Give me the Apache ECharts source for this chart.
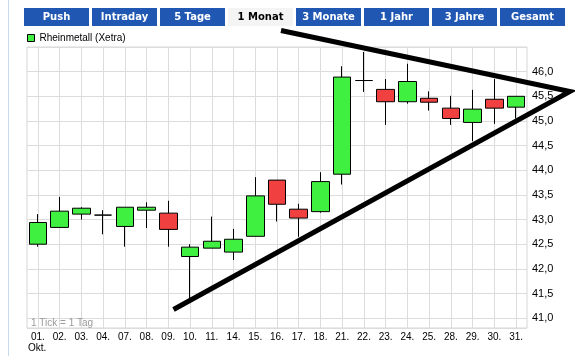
<!DOCTYPE html>
<html>
<head>
<meta charset="utf-8">
<script src="https://cdn.jsdelivr.net/npm/echarts@6/dist/echarts.min.js"></script>
<style>
html,body{margin:0;padding:0;background:#fff;}
#chart{width:575px;height:356px;}
</style>
</head>
<body>
<div id="chart"></div>
<script>
// ---- data ----
var categories = ['01.','02.','03.','04.','07.','08.','09.','10.','11.','14.','15.','16.','17.','18.','21.','22.','23.','24.','25.','28.','29.','30.','31.'];
var openVals  = [42.50,42.84,43.11,43.09,42.86,43.19,43.13,42.25,42.42,42.34,42.66,43.80,43.21,43.16,43.92,45.82,45.64,45.39,45.46,45.26,44.97,45.44,45.28];
var closeVals = [42.94,43.17,43.23,43.09,43.25,43.25,42.80,42.44,42.56,42.60,43.48,43.31,43.03,43.77,45.89,45.82,45.39,45.80,45.38,45.05,45.24,45.26,45.50];
var lowVals   = [42.45,42.84,43.00,42.70,42.45,42.83,42.45,41.40,42.42,42.18,42.66,42.96,42.65,43.14,43.71,45.59,44.92,45.35,45.21,44.92,44.59,44.94,45.05];
var highVals  = [43.11,43.46,43.25,43.19,43.25,43.35,43.38,42.50,43.06,42.81,43.86,43.80,43.32,43.96,46.11,46.40,45.85,46.16,45.60,45.51,45.63,45.85,45.50];
var tabLabels = ['Push','Intraday','5 Tage','1 Monat','3 Monate','1 Jahr','3 Jahre','Gesamt'];
var activeTab = '1 Monat';
var seriesName = 'Rheinmetall (Xetra)';
var yMin = 40.8, yMax = 46.5;

var candleData = categories.map(function(c,i){
  return [openVals[i], closeVals[i], lowVals[i], highVals[i]];
});

var graphics = [];
// page frame line
graphics.push({type:'line', shape:{x1:8.5,y1:0,x2:8.5,y2:356}, style:{stroke:'#c9d8ec',lineWidth:1}, z:0});
// tabs
tabLabels.forEach(function(t,i){
  var x = 24 + i*68;
  var active = t === activeTab;
  graphics.push({type:'rect', shape:{x:x,y:8,width:65,height:18}, style:{fill: active ? '#f4f4f4' : '#1f57b3'}, z:1});
  graphics.push({type:'text', x:x+32.5, y:17.5, style:{text:t, fill: active ? '#000' : '#fff', font:'bold 10px "DejaVu Sans"', textAlign:'center', textVerticalAlign:'middle'}, z:2});
});
// footnote texts
graphics.push({type:'text', x:31, y:323, style:{text:'1 Tick = 1 Tag', fill:'#9a9a9a', font:'10px "Liberation Sans"', textVerticalAlign:'middle'}, z:5});
graphics.push({type:'text', x:28, y:348, style:{text:'Okt.', fill:'#000', font:'10px "Liberation Sans"', textVerticalAlign:'middle'}, z:5});
// hand-drawn triangle annotation
graphics.push({type:'polyline', shape:{points:[[281,30.5],[570,91.5],[173.5,309.5]]}, style:{stroke:'#000', lineWidth:5, fill:null, lineJoin:'miter'}, z:20});

var chart = echarts.init(document.getElementById('chart'), null, {renderer:'canvas'});
chart.setOption({
  animation:false,
  backgroundColor:'#fff',
  legend:{
    left:22, top:28, itemWidth:7, itemHeight:7, itemGap:10,
    data:[{name:seriesName, icon:'rect'}],
    itemStyle:{color:'#40f040', borderColor:'#000', borderWidth:1},
    textStyle:{fontSize:10, fontFamily:'Liberation Sans', color:'#000'}
  },
  grid:{left:27, right:48, top:47, bottom:28, show:true, borderColor:'#d6d6d6', borderWidth:1},
  xAxis:{
    type:'category', data:categories, boundaryGap:true,
    axisLine:{show:false}, axisTick:{show:false, alignWithLabel:true},
    splitLine:{show:true, alignWithLabel:true, lineStyle:{color:'#dcdcdc', width:1}},
    axisLabel:{fontSize:10, fontFamily:'Liberation Sans', color:'#000', margin:4, interval:0}
  },
  yAxis:{
    type:'value', position:'right', min:yMin, max:yMax, splitNumber:11, minInterval:0.5, maxInterval:0.5, scale:true,
    axisLine:{show:false}, axisTick:{show:false},
    splitLine:{show:true, lineStyle:{color:'#dcdcdc', width:1}},
    axisLabel:{showMinLabel:false, showMaxLabel:false, fontSize:11, fontFamily:'Liberation Sans', color:'#000', margin:5,
      formatter:function(v){ return (Math.abs(v*2 - Math.round(v*2))<1e-6) ? v.toFixed(1).replace('.',',') : ''; }}
  },
  series:[{
    name:seriesName, type:'candlestick', data:candleData, barWidth:18,
    itemStyle:{color:'#40f040', color0:'#f04040', borderColor:'#000', borderColor0:'#000', borderColorDoji:'#000', borderWidth:1}
  }],
  graphic:graphics
});
</script>
</body>
</html>
